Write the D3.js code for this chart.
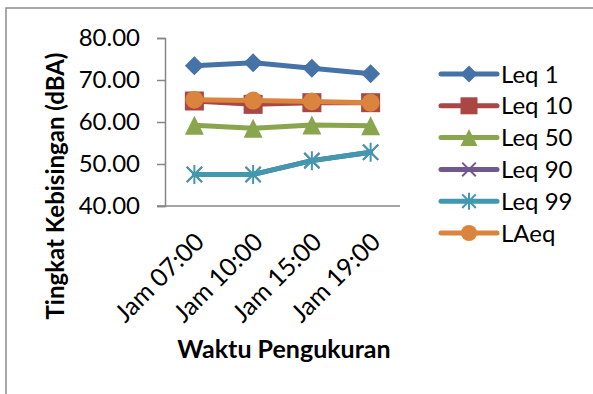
<!DOCTYPE html>
<html>
<head>
<meta charset="utf-8">
<script src="https://cdn.jsdelivr.net/npm/d3@7"></script>
<style>
  body { margin: 0; background: #fff; }
  svg text { font-family: Lato, "Open Sans", sans-serif; fill: #000; }
</style>
</head>
<body>
<div id="chart"></div>
<script>
const categories = ["Jam 07:00", "Jam 10:00", "Jam 15:00", "Jam 19:00"];
const seriesNames = ["Leq 1", "Leq 10", "Leq 50", "Leq 90", "Leq 99", "LAeq"];
const leq1 = [73.4, 74.1, 72.8, 71.5];
const leq10 = [65.0, 64.2, 64.6, 64.6];
const leq50 = [59.2, 58.5, 59.3, 59.1];
const leq90 = [47.5, 47.5, 50.8, 52.8];
const leq99 = [47.5, 47.5, 50.8, 52.8];
const laeq = [65.3, 65.1, 64.9, 64.6];
const yTicks = [40, 50, 60, 70, 80];

const colors = ["#4572A7", "#AA4643", "#89A54E", "#71588F", "#4198AF", "#DB843D"];
const markers = ["diamond", "square", "triangle", "x", "star", "circle"];
const allValues = [leq1, leq10, leq50, leq90, leq99, laeq];

const w = 593, h = 394;
const plot = {left: 165, right: 400, top: 38, bottom: 206};

const svg = d3.select("#chart").append("svg")
    .attr("width", w)
    .attr("height", h);

// outer chart border (only left/top visible in the crop)
svg.append("rect")
    .attr("x", 6).attr("y", 8)
    .attr("width", 700).attr("height", 500)
    .attr("fill", "none")
    .attr("stroke", "#8c8c8c")
    .attr("stroke-width", 1.5);

const x = d3.scalePoint()
    .domain(categories)
    .range([plot.left, plot.right])
    .padding(0.5);

const y = d3.scaleLinear()
    .domain([40, 80])
    .range([plot.bottom, plot.top]);

// y axis
const yAxis = svg.append("g")
    .attr("transform", "translate(" + plot.left + ",0)")
    .call(d3.axisLeft(y).tickValues(yTicks).tickFormat(d3.format(".2f")).tickSize(8).tickPadding(17));
yAxis.select(".domain").attr("stroke", "#868686").attr("stroke-width", 1.5);
yAxis.selectAll(".tick line").attr("stroke", "#868686").attr("stroke-width", 1.5);
yAxis.selectAll("text")
    .style("font-family", "Lato, 'Open Sans', sans-serif")
    .style("font-size", "24px")
    .attr("fill", "#000");

// x axis line
svg.append("line")
    .attr("x1", plot.left - 8).attr("x2", plot.right)
    .attr("y1", plot.bottom).attr("y2", plot.bottom)
    .attr("stroke", "#868686").attr("stroke-width", 1.5);

svg.selectAll(".xlabel")
    .data(categories)
    .enter()
    .append("text")
    .attr("class", "xlabel")
    .attr("transform", (d) => "translate(" + (x(d) - 1) + "," + (plot.bottom + 25) + ") rotate(-45)")
    .attr("text-anchor", "end")
    .attr("dy", "0.7em")
    .style("font-size", "25px")
    .text((d) => d);

// axis titles
svg.append("text")
    .attr("transform", "translate(64,186) rotate(-90)")
    .attr("text-anchor", "middle")
    .style("font-size", "24px")
    .style("font-weight", "bold")
    .text("Tingkat Kebisingan (dBA)");

svg.append("text")
    .attr("x", 284).attr("y", 358)
    .attr("text-anchor", "middle")
    .style("font-size", "25px")
    .style("font-weight", "bold")
    .text("Waktu Pengukuran");

function drawMarker(g, type, color, s) {
    const r = s / 2;
    if (type === "diamond") {
        g.append("path").attr("d", `M0,${-r}L${r},0L0,${r}L${-r},0Z`).attr("fill", color);
    } else if (type === "square") {
        g.append("rect").attr("x", -r).attr("y", -r).attr("width", s).attr("height", s).attr("fill", color);
    } else if (type === "triangle") {
        g.append("path").attr("d", `M0,${-r}L${r},${r}L${-r},${r}Z`).attr("fill", color);
    } else if (type === "circle") {
        g.append("circle").attr("r", r * 0.95).attr("fill", color);
    } else if (type === "x") {
        g.append("path").attr("d", `M${-r * 0.8},${-r * 0.8}L${r * 0.8},${r * 0.8}M${-r * 0.8},${r * 0.8}L${r * 0.8},${-r * 0.8}`)
            .attr("stroke", color).attr("stroke-width", 2).attr("fill", "none");
    } else if (type === "star") {
        g.append("path").attr("d", `M${-r * 0.8},${-r * 0.8}L${r * 0.8},${r * 0.8}M${-r * 0.8},${r * 0.8}L${r * 0.8},${-r * 0.8}M0,${-r}L0,${r}`)
            .attr("stroke", color).attr("stroke-width", 2).attr("fill", "none");
    }
}

const line = d3.line()
    .x((d, i) => x(categories[i]))
    .y((d) => y(d));

allValues.forEach((vals, si) => {
    const g = svg.append("g");
    g.append("path")
        .datum(vals)
        .attr("d", line)
        .attr("fill", "none")
        .attr("stroke", colors[si])
        .attr("stroke-width", 5)
        .attr("stroke-linejoin", "round")
        .attr("stroke-linecap", "round");
    vals.forEach((v, i) => {
        const m = g.append("g").attr("transform", "translate(" + x(categories[i]) + "," + y(v) + ")");
        drawMarker(m, markers[si], colors[si], 19);
    });
});

// legend
const legend = svg.append("g").attr("transform", "translate(441,74)");
seriesNames.forEach((name, i) => {
    const row = legend.append("g").attr("transform", "translate(0," + (i * 31.8) + ")");
    row.append("line")
        .attr("x1", 0).attr("x2", 56)
        .attr("stroke", colors[i]).attr("stroke-width", 5)
        .attr("stroke-linecap", "round");
    const m = row.append("g").attr("transform", "translate(28,0)");
    drawMarker(m, markers[i], colors[i], 17);
    row.append("text")
        .attr("x", 60).attr("y", 0)
        .attr("dy", "0.36em")
        .style("font-size", "24px")
        .text(name);
});
</script>
</body>
</html>
